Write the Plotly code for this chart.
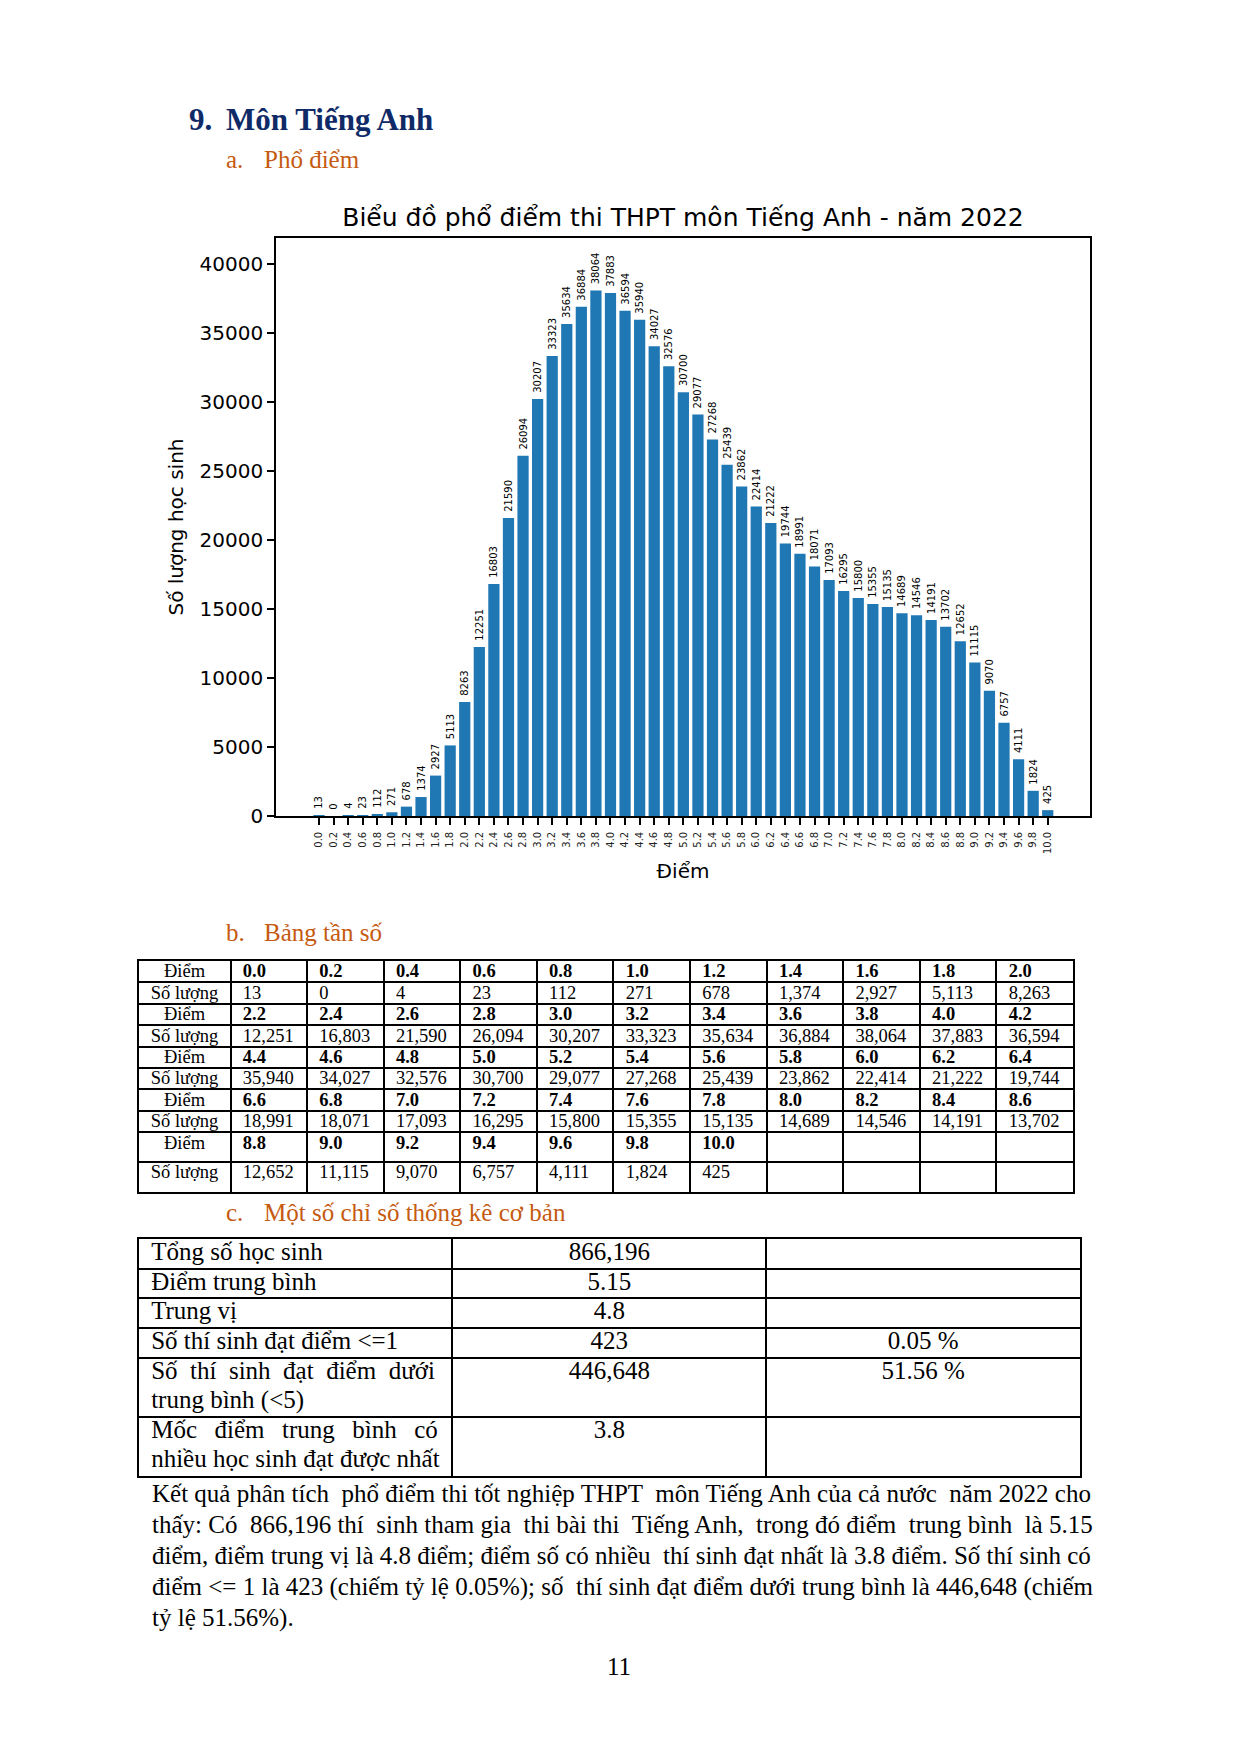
import plotly.graph_objects as go

PAGE_W, PAGE_H = 1240, 1754
OFF = 8                      # default page margin around the plot div
W, H = PAGE_W - OFF, PAGE_H - OFF

# ---------------- data ----------------
scores = ["0.0", "0.2", "0.4", "0.6", "0.8", "1.0", "1.2", "1.4", "1.6", "1.8", "2.0",
          "2.2", "2.4", "2.6", "2.8", "3.0", "3.2", "3.4", "3.6", "3.8", "4.0", "4.2",
          "4.4", "4.6", "4.8", "5.0", "5.2", "5.4", "5.6", "5.8", "6.0", "6.2", "6.4",
          "6.6", "6.8", "7.0", "7.2", "7.4", "7.6", "7.8", "8.0", "8.2", "8.4", "8.6",
          "8.8", "9.0", "9.2", "9.4", "9.6", "9.8", "10.0"]
counts = [13, 0, 4, 23, 112, 271, 678, 1374, 2927, 5113, 8263,
          12251, 16803, 21590, 26094, 30207, 33323, 35634, 36884, 38064, 37883, 36594,
          35940, 34027, 32576, 30700, 29077, 27268, 25439, 23862, 22414, 21222, 19744,
          18991, 18071, 17093, 16295, 15800, 15355, 15135, 14689, 14546, 14191, 13702,
          12652, 11115, 9070, 6757, 4111, 1824, 425]

y_ticks = [0, 5000, 10000, 15000, 20000, 25000, 30000, 35000, 40000]
chart_title = "Biểu đồ phổ điểm thi THPT môn Tiếng Anh - năm 2022"
x_title = "Điểm"
y_title = "Số lượng học sinh"

row_label_score = "Điểm"
row_label_count = "Số lượng"
per_row = 11

stat_labels = [["Tổng số học sinh"],
               ["Điểm trung bình"],
               ["Trung vị"],
               ["Số thí sinh đạt điểm &lt;=1"],
               ["Số thí sinh đạt điểm dưới", "trung bình (&lt;5)"],
               ["Mốc điểm trung bình có", "nhiều học sinh đạt được nhất"]]
stat_values = ["866,196", "5.15", "4.8", "423", "446,648", "3.8"]
stat_percents = ["", "", "", "0.05 %", "51.56 %", ""]

heading_num = "9."
heading_text = "Môn Tiếng Anh"
sub_a = ("a.", "Phổ điểm")
sub_b = ("b.", "Bảng tần số")
sub_c = ("c.", "Một số chỉ số thống kê cơ bản")
body_lines = [
    "Kết quả phân tích phổ điểm thi tốt nghiệp THPT môn Tiếng Anh của cả nước năm 2022 cho",
    "thấy: Có 866,196 thí sinh tham gia thi bài thi Tiếng Anh, trong đó điểm trung bình là 5.15",
    "điểm, điểm trung vị là 4.8 điểm; điểm số có nhiều thí sinh đạt nhất là 3.8 điểm. Số thí sinh có",
    "điểm &lt;= 1 là 423 (chiếm tỷ lệ 0.05%); số thí sinh đạt điểm dưới trung bình là 446,648 (chiếm",
    "tỷ lệ 51.56%).",
]
page_number = "11"

# ---------------- styles ----------------
SANS = "DejaVu Sans"
SERIF = "Liberation Serif, Times New Roman, serif"
NAVY = "#102a68"
ORANGE = "#c55a11"
BAR = "#1f77b4"


def px(x):
    return (x - OFF) / W


def py(y):
    return 1 - (y - OFF) / H


def spread(line, extra_per_gap):
    """widen every gap of a justified line"""
    return line.replace(" ", " " + extra_per_gap)


def justify(line, n_extra):
    """add n_extra non-breaking spaces spread evenly over the gaps"""
    words = line.split(" ")
    gaps = len(words) - 1
    if n_extra <= 0 or gaps <= 0:
        return line
    picks = {int((k + 0.5) * gaps / n_extra) for k in range(n_extra)}
    out = words[0]
    for g in range(gaps):
        out += (" \u00a0" if g in picks else " ") + words[g + 1]
    return out


fig = go.Figure()

# ---------------- bar chart ----------------
fig.add_trace(go.Bar(
    x=scores, y=counts, width=0.77,
    marker=dict(color=BAR, line=dict(width=0)),
    text=["\u00a0" + str(c) for c in counts],
    textposition="outside", textangle=-90, constraintext="none", cliponaxis=False,
    textfont=dict(family=SANS, size=10, color="black"),
    hoverinfo="skip", xaxis="x", yaxis="y", showlegend=False,
))

# ---------------- frequency table ----------------
freq_row_h = [1.0] * 8 + [1.39, 1.39]
freq_tops = [sum(freq_row_h[:i]) for i in range(len(freq_row_h))]
freq_total = sum(freq_row_h)
label_w = 1.2
n_blocks = (len(scores) + per_row - 1) // per_row

lab_x, lab_y, lab_t = [], [], []
val_x, val_y, val_t = [], [], []
for b in range(n_blocks):
    sc = scores[b * per_row:(b + 1) * per_row]
    ct = counts[b * per_row:(b + 1) * per_row]
    r_s, r_c = 2 * b, 2 * b + 1
    lab_x += [label_w / 2, label_w / 2]
    lab_y += [freq_tops[r_s] + 0.55, freq_tops[r_c] + 0.55]
    lab_t += [row_label_score, row_label_count]
    for j, (s, c) in enumerate(zip(sc, ct)):
        val_x += [label_w + j + 0.16, label_w + j + 0.16]
        val_y += [freq_tops[r_s] + 0.55, freq_tops[r_c] + 0.55]
        val_t += ["<b>" + s + "</b>", f"{c:,}"]

fig.add_trace(go.Scatter(x=lab_x, y=lab_y, text=lab_t, mode="text", textposition="middle center",
                         textfont=dict(family=SERIF, size=18.5, color="black"),
                         hoverinfo="skip", xaxis="x3", yaxis="y3", showlegend=False))
fig.add_trace(go.Scatter(x=val_x, y=val_y, text=val_t, mode="text", textposition="middle right",
                         textfont=dict(family=SERIF, size=18.5, color="black"),
                         hoverinfo="skip", xaxis="x3", yaxis="y3", showlegend=False))

# ---------------- statistics table ----------------
stat_row_h = [len(l) for l in stat_labels]
stat_tops = [sum(stat_row_h[:i]) for i in range(len(stat_row_h))]
stat_total = sum(stat_row_h)
# justification of the first line in the two-line cells
first_line_fill = {4: "\u00a0", 5: "\u00a0\u2009"}

s1x, s1y, s1t = [], [], []
s2x, s2y, s2t = [], [], []
for i, lines in enumerate(stat_labels):
    for k, ln in enumerate(lines):
        if k == 0 and i in first_line_fill:
            ln = spread(ln, first_line_fill[i])
        s1x.append(0.04)
        s1y.append(stat_tops[i] + k + 0.5)
        s1t.append(ln)
    s2x += [1.5, 2.5]
    s2y += [stat_tops[i] + 0.5, stat_tops[i] + 0.5]
    s2t += [stat_values[i], stat_percents[i]]

fig.add_trace(go.Scatter(x=s1x, y=s1y, text=s1t, mode="text", textposition="middle right",
                         textfont=dict(family=SERIF, size=25, color="black"),
                         hoverinfo="skip", xaxis="x4", yaxis="y4", showlegend=False))
fig.add_trace(go.Scatter(x=s2x, y=s2y, text=s2t, mode="text", textposition="middle center",
                         textfont=dict(family=SERIF, size=25, color="black"),
                         hoverinfo="skip", xaxis="x4", yaxis="y4", showlegend=False))

# ---------------- axes ----------------
chart_axis = dict(showline=True, linecolor="black", linewidth=1.6, mirror=True,
                  ticks="outside", ticklen=7, tickwidth=1.6, tickcolor="black",
                  showgrid=False, zeroline=False, automargin=False, fixedrange=True)

table_axis = dict(showline=True, linecolor="black", linewidth=2, mirror=True,
                  ticks="", showticklabels=False, showgrid=True, gridcolor="black",
                  gridwidth=2, zeroline=False, automargin=False, fixedrange=True,
                  tickmode="array")

fig.update_layout(
    width=W, height=H,
    margin=dict(l=0, r=0, t=0, b=0),
    paper_bgcolor="white", plot_bgcolor="white",
    showlegend=False,
    title=dict(text=chart_title, x=px(683), xanchor="center", xref="container",
               y=py(217), yanchor="middle", yref="container",
               font=dict(family=SANS, size=25, color="black")),
    xaxis=dict(chart_axis, domain=[px(276), px(1090)], anchor="y", type="category",
               range=[-2.95, 52.9], tickmode="array", tickvals=scores, ticktext=scores,
               tickangle=-90, tickfont=dict(family=SANS, size=10, color="#222"),
               ticklabelstandoff=3,
               title=dict(text=x_title, font=dict(family=SANS, size=20, color="black"), standoff=11)),
    yaxis=dict(chart_axis, domain=[py(816), py(238)], anchor="x", range=[0, 41870],
               tickmode="array", tickvals=y_ticks, tickformat="d",
               tickfont=dict(family=SANS, size=20, color="black"),
               title=dict(text=y_title, font=dict(family=SANS, size=20, color="black"), standoff=11)),
    xaxis3=dict(table_axis, domain=[px(138.6), px(1073)], anchor="y3",
                range=[0, label_w + per_row],
                tickvals=[label_w + j for j in range(per_row)]),
    yaxis3=dict(table_axis, domain=[py(1191.7), py(961)], anchor="x3",
                range=[freq_total, 0], tickvals=freq_tops[1:]),
    xaxis4=dict(table_axis, domain=[px(138.6), px(1080)], anchor="y4",
                range=[0, 3], tickvals=[1, 2]),
    yaxis4=dict(table_axis, domain=[py(1476), py(1239)], anchor="x4",
                range=[stat_total, 0], tickvals=stat_tops[1:]),
)

# ---------------- document text ----------------
ann = []


def add_text(text, x, y, size, color="black", xanchor="left", family=SERIF):
    ann.append(dict(text=text, x=px(x), y=py(y), xref="paper", yref="paper",
                    xanchor=xanchor, yanchor="middle", showarrow=False,
                    font=dict(family=family, size=size, color=color)))


add_text("<b>" + heading_num + "</b>", 187, 120, 31, NAVY)
add_text("<b>" + heading_text + "</b>", 224, 120, 31, NAVY)
for (lab, txt), yy in [(sub_a, 159), (sub_b, 932), (sub_c, 1212)]:
    add_text(lab, 224, yy, 25, ORANGE)
    add_text(txt, 262, yy, 25, ORANGE)

body_extra = [3, 7, 1, 1, 0]
for i, ln in enumerate(body_lines):
    add_text(justify(ln, body_extra[i]), 150, 1493 + i * 31.2, 25)
add_text(page_number, 619, 1666, 25, xanchor="center")

fig.update_layout(annotations=ann)

fig.write_html("out.html")
